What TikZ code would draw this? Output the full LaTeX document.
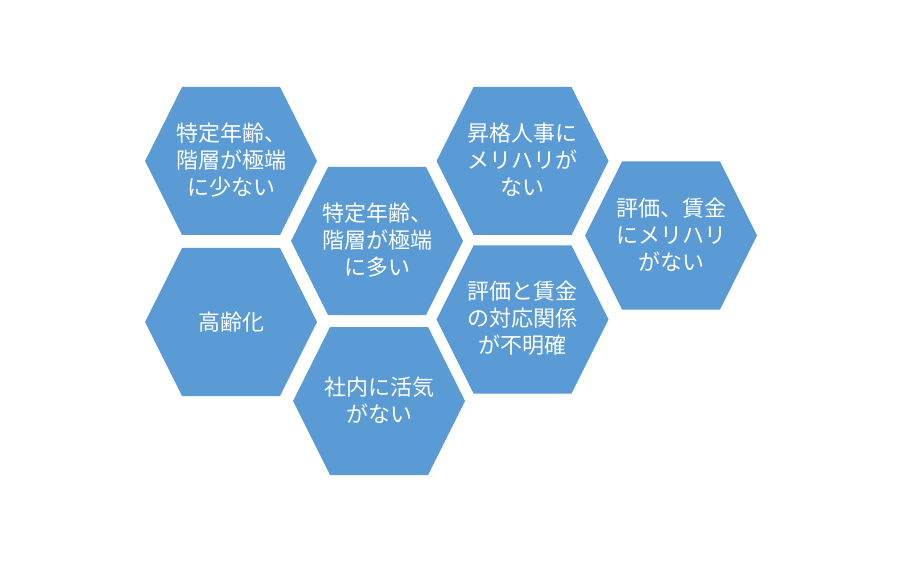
\documentclass[tikz,border=0pt]{standalone}
\usepackage{fontspec}
\newfontfamily\jpfont{Noto Sans CJK JP}
\definecolor{hexblue}{RGB}{91,155,213}
\tikzset{
  hexfill/.style={fill=hexblue},
  hexagon/.pic={\fill[hexfill] (-86,0) -- (-49,-74) -- (49,-74) -- (86,0) -- (49,74) -- (-49,74) -- cycle;},
  lbl/.style={text=white, font=\jpfont\fontsize{22}{27}\selectfont, align=center, inner sep=0pt}
}
\begin{document}
\begin{tikzpicture}[x=1pt,y=-1pt]
\useasboundingbox (0,0) rectangle (900,564);
\pic at (231,161) {hexagon};
\pic at (231,322) {hexagon};
\pic at (377,241) {hexagon};
\pic at (379,401) {hexagon};
\pic at (522.5,161) {hexagon};
\pic at (522.5,319.5) {hexagon};
\pic at (671,235.5) {hexagon};
\node[lbl] (a) at (231,160) {特定年齢、\\階層が極端\\に少ない};
\node[lbl] (b) at (231,322) {高齢化};
\node[lbl] (c) at (377,240) {特定年齢、\\階層が極端\\に多い};
\node[lbl] (d) at (379,400) {社内に活気\\がない};
\node[lbl] (e) at (522.5,160) {昇格人事に\\メリハリが\\ない};
\node[lbl] (f) at (522.5,318.5) {評価と賃金\\の対応関係\\が不明確};
\node[lbl] (g) at (671,235) {評価、賃金\\にメリハリ\\がない};
\end{tikzpicture}
\end{document}
